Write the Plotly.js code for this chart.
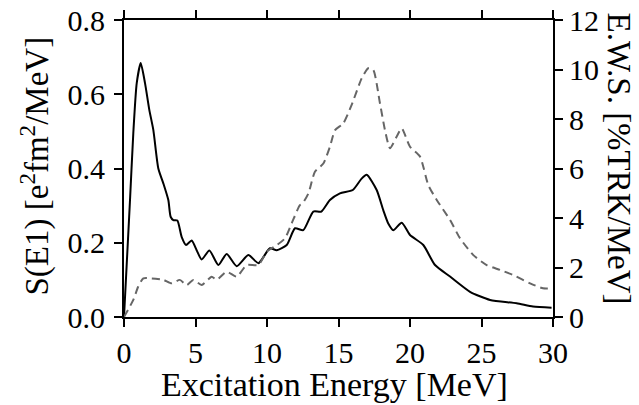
<!DOCTYPE html>
<html>
<head>
<meta charset="utf-8">
<script src="https://cdn.plot.ly/plotly-3.0.1.min.js"></script>
<style>html,body{margin:0;padding:0;background:#fff;overflow:hidden;}#chart{width:639px;height:405px;}</style>
</head>
<body>
<div id="chart"></div>
<script>
// S(E1) strength (left axis) vs excitation energy
const energyS = [0, 0.42, 0.65, 0.89, 1.17, 1.47, 1.77, 2.05, 2.4, 2.75, 3.1, 3.26, 3.45, 3.73, 4.03, 4.34, 4.73, 5.08, 5.43, 5.97, 6.6, 7.18, 7.88, 8.7, 9.4, 10.2, 10.68, 11.38, 11.96, 12.54, 13.24, 13.8, 14.4, 15.1, 16.0, 16.6, 16.97, 17.67, 18.13, 18.48, 18.83, 19.42, 20.0, 20.93, 21.75, 22.8, 24.2, 25.6, 27.46, 28.6, 29.9];
const strengthS = [0, 0.315, 0.495, 0.63, 0.684, 0.63, 0.558, 0.504, 0.4, 0.36, 0.315, 0.27, 0.261, 0.26, 0.216, 0.194, 0.206, 0.18, 0.155, 0.179, 0.14, 0.17, 0.137, 0.167, 0.145, 0.185, 0.18, 0.194, 0.239, 0.234, 0.284, 0.284, 0.315, 0.333, 0.342, 0.372, 0.383, 0.342, 0.288, 0.252, 0.234, 0.254, 0.221, 0.194, 0.14, 0.109, 0.068, 0.046, 0.037, 0.028, 0.025];
// E.W.S. (right axis)
const energyW = [0, 0.65, 0.99, 1.35, 1.93, 2.75, 3.33, 3.9, 4.38, 4.85, 5.43, 6.13, 6.48, 7.18, 7.88, 8.58, 9.4, 9.98, 10.68, 11.26, 11.73, 12.3, 12.5, 12.9, 13.35, 13.94, 14.4, 14.76, 15.33, 15.92, 16.62, 17.08, 17.43, 17.9, 18.25, 18.6, 19.07, 19.42, 20.0, 20.7, 21.28, 21.87, 22.8, 23.5, 24.43, 25.36, 26.3, 27.2, 28.4, 29.3, 29.9];
const ews = [0, 0.69, 1.22, 1.56, 1.56, 1.5, 1.36, 1.5, 1.29, 1.5, 1.29, 1.63, 1.5, 1.83, 1.63, 2.1, 2.1, 2.64, 2.9, 3.18, 3.79, 4.52, 4.6, 5.0, 5.87, 6.2, 6.88, 7.55, 7.82, 8.57, 9.64, 10.05, 9.98, 8.63, 7.55, 6.82, 7.29, 7.62, 6.88, 6.48, 5.33, 4.73, 3.92, 3.18, 2.5, 2.1, 1.9, 1.7, 1.36, 1.16, 1.16];
const xTicks = [0, 5, 10, 15, 20, 25, 30];
const yTicks = [0, 0.2, 0.4, 0.6, 0.8];
const yTickLabels = ['0.0', '0.2', '0.4', '0.6', '0.8'];
const y2Ticks = [0, 2, 4, 6, 8, 10, 12];

const fam = 'Liberation Serif';
function f(size) { return {family: fam, size: size, color: '#000'}; }

const traces = [
  {x: energyW, y: ews, yaxis: 'y2', mode: 'lines', line: {color: '#666666', width: 2, dash: '8px,5px', shape: 'spline', smoothing: 0.6}, hoverinfo: 'skip'},
  {x: energyS, y: strengthS, mode: 'lines', line: {color: '#000', width: 2, shape: 'spline', smoothing: 0.6}, hoverinfo: 'skip'}
];

const axisCommon = {showgrid: false, zeroline: false, showline: true, linecolor: '#000', linewidth: 2, ticks: 'outside', ticklen: 8, tickwidth: 2, tickcolor: '#000', tickfont: f(30)};

const layout = {
  width: 639, height: 405,
  margin: {l: 124, r: 86, t: 20, b: 88},
  paper_bgcolor: '#fff', plot_bgcolor: '#fff',
  showlegend: false,
  xaxis: Object.assign({}, axisCommon, {range: [0, 30], tickvals: xTicks, mirror: 'ticks'}),
  yaxis: Object.assign({}, axisCommon, {range: [0, 0.8], tickvals: yTicks, ticktext: yTickLabels, ticklabelstandoff: 3}),
  yaxis2: Object.assign({}, axisCommon, {range: [0, 12], tickvals: y2Ticks, overlaying: 'y', side: 'right'}),
  annotations: [
    {xref: 'paper', yref: 'paper', x: 0.5, y: 0, xshift: -4, yshift: -67, xanchor: 'center', yanchor: 'middle',
     text: 'Excitation Energy [MeV]', showarrow: false, font: f(34)},
    {xref: 'paper', yref: 'paper', x: 0, xshift: -89, y: 0.5, yshift: 2, xanchor: 'center', yanchor: 'middle',
     text: 'S(E1) [e<sup>2</sup>fm<sup>2</sup>/MeV]', textangle: -90, showarrow: false, font: f(33)},
    {xref: 'paper', yref: 'paper', x: 1, xshift: 66, y: 0.5, yshift: 10, xanchor: 'center', yanchor: 'middle',
     text: 'E.W.S. [%TRK/MeV]', textangle: 90, showarrow: false, font: f(33)}
  ]
};

Plotly.newPlot('chart', traces, layout, {staticPlot: true, displayModeBar: false});
</script>
</body>
</html>
